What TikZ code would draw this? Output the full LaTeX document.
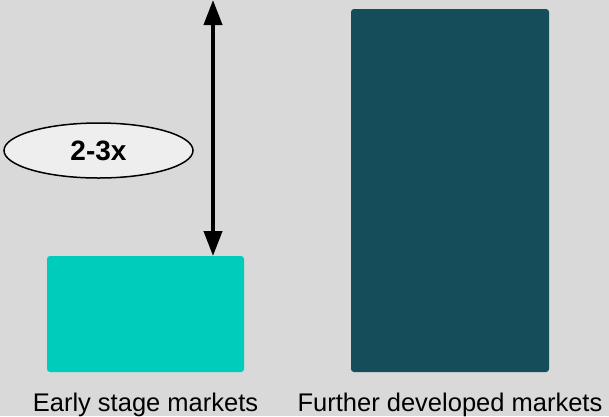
\documentclass[tikz,border=0pt]{standalone}
\usepackage{fontspec}
\setmainfont{Liberation Sans}
\usetikzlibrary{positioning, shapes.geometric, arrows.meta}

\definecolor{bggray}{HTML}{D9D9D9}
\definecolor{earlyteal}{HTML}{00CCBC}
\definecolor{furtherteal}{HTML}{154E5A}
\definecolor{ratiofill}{HTML}{EEEEEE}

\begin{document}
\begin{tikzpicture}
[
    x=1pt, y=-1pt,
    % Units are pixels of the 609 x 416 canvas, y grows downwards
]

%=================================== Start ===================================
\tikzstyle{bar}    = [draw=none, rounded corners=3pt, inner sep=0pt, outer sep=0pt, anchor=north west]
\tikzstyle{lbl}    = [font=\fontsize{25.5}{28}\selectfont, anchor=base, inner sep=0pt]
\tikzstyle{ratio}  = [ellipse, draw, line width=1.5pt, fill=ratiofill, inner sep=0pt,
                      minimum width=189pt, minimum height=55pt,
                      font=\bfseries\fontsize{28}{30}\selectfont]
\tikzstyle{growth} = [line width=4pt, {Triangle[length=25pt, width=18pt]}-{Triangle[length=25pt, width=18pt]}]

% Background
\fill[bggray] (0,0) rectangle (609,416);
\useasboundingbox (0,0) rectangle (609,416);

{
    % Draw bars
    \node[bar, fill=earlyteal,   minimum width=197pt, minimum height=116pt] (early)   at (47,256) {};
    \node[bar, fill=furtherteal, minimum width=198pt, minimum height=363pt] (further) at (351,9)  {};

    % Draw labels under the bars
    \node[lbl] (early-lbl)   at (early.south   |- 0,411) {Early stage markets};
    \node[lbl] (further-lbl) at (further.south |- 0,411) {Further developed markets};

    % Growth arrow from the top edge down to the small bar
    \coordinate (arrow-top) at (213,0);
    \draw[growth] (arrow-top) -- (arrow-top |- early.north);

    % Ratio badge
    \node[ratio] (ratio) at (98.5,150.5) {2-3x};
}
%==================================== END ====================================

\end{tikzpicture}
\end{document}
